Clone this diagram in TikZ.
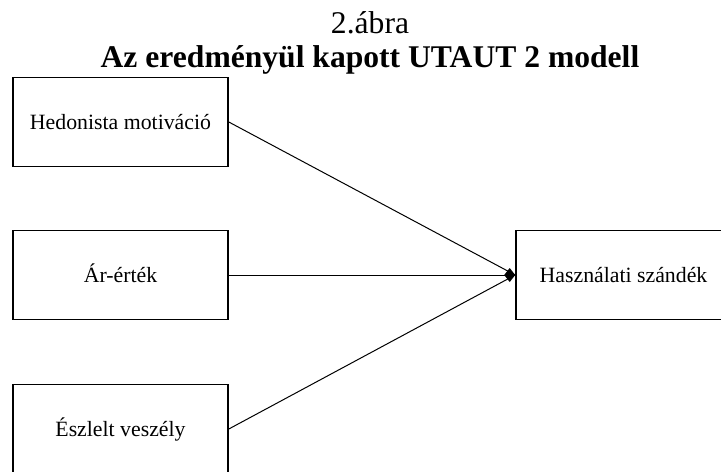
\documentclass[tikz,border=0pt]{standalone}
\usepackage{fontspec}
\setmainfont{Liberation Serif}
\usetikzlibrary{arrows.meta}

\begin{document}
\begin{tikzpicture}[x=0.5pt,y=0.5pt,line width=0.5pt,
  factor/.style={draw,line width=0.8pt,minimum width=107.5pt,minimum height=44.5pt,
    inner sep=0pt,font=\fontsize{10.9}{13}\selectfont,text height=0.74em,text depth=0pt},
  link/.style={-{Kite[length=5.5pt,width=7pt,inset=2.75pt]}},
  caption/.style={anchor=base,font=\fontsize{15.8}{19}\selectfont}]
\clip (0,0) rectangle (721,-471);
% ---------- title ----------
\node[caption] (fig) at (370,-33) {2.ábra};
\node[caption,font=\fontsize{15.8}{19}\selectfont\bfseries] (title) at (370,-67) {Az eredményül kapott UTAUT 2 modell};
% ---------- predictors ----------
\node[factor] (hedon) at (120.5,-122) {Hedonista motiváció};
\node[factor] (price) at (120.5,-275) {Ár-érték};
\node[factor] (risk)  at (120.5,-429) {Észlelt veszély};
% ---------- outcome ----------
\node[factor] (intent) at (623.5,-275) {Használati szándék};
\draw (hedon.east) -- (intent.west);
\draw[link] (price.east) -- (intent.west);
\draw (risk.east) -- (intent.west);
\end{tikzpicture}
\end{document}
